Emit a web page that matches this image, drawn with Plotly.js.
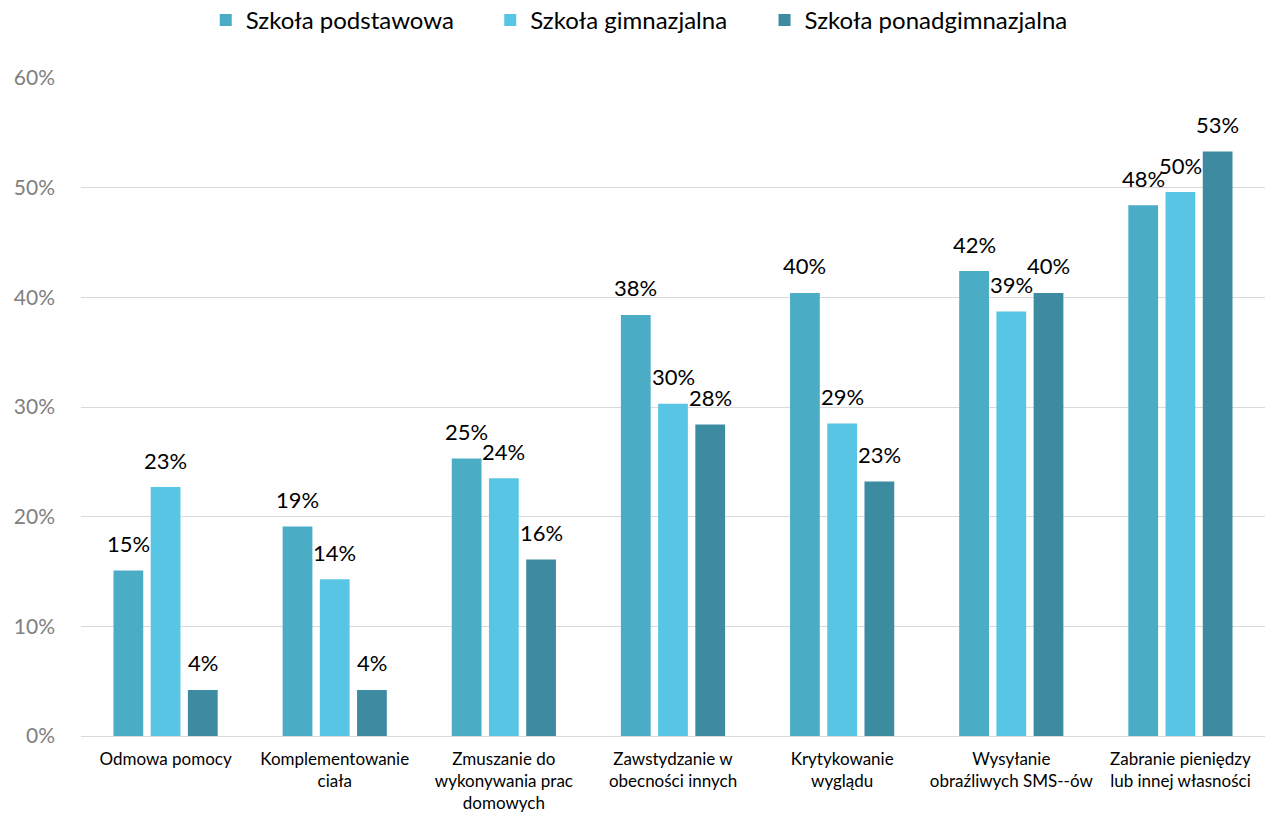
<!DOCTYPE html>
<html>
<head>
<meta charset="utf-8">
<script src="https://cdn.plot.ly/plotly-3.0.1.min.js"></script>
<style>
  html, body { margin: 0; padding: 0; background: #fff; }
  #chart { width: 1270px; height: 814px; }
</style>
</head>
<body>
<div id="chart"></div>
<script>
var categories = [
  'Odmowa pomocy',
  'Komplementowanie<br>ciała',
  'Zmuszanie do<br>wykonywania prac<br>domowych',
  'Zawstydzanie w<br>obecności innych',
  'Krytykowanie<br>wyglądu',
  'Wysyłanie<br>obraźliwych SMS--ów',
  'Zabranie pieniędzy<br>lub innej własności'
];
var seriesNames = ['Szkoła podstawowa', 'Szkoła gimnazjalna', 'Szkoła ponadgimnazjalna'];
var podstawowa = [15.1, 19.1, 25.3, 38.4, 40.4, 42.4, 48.4];
var gimnazjalna = [22.7, 14.3, 23.5, 30.3, 28.5, 38.7, 49.6];
var ponadgimnazjalna = [4.2, 4.2, 16.1, 28.4, 23.2, 40.4, 53.3];
var colors = ['#4BACC6', '#59C5E5', '#3D8BA1'];

var W = 1270, H = 814;
var margin = { l: 81, r: 5, t: 78, b: 78 };
var bargap = 0.34;

var allSeries = [podstawowa, gimnazjalna, ponadgimnazjalna];
var legendIds = ['legend', 'legend2', 'legend3'];
var legendX = [0.162, 0.386, 0.602];

var data = allSeries.map(function (y, i) {
  return {
    type: 'bar',
    name: seriesNames[i],
    x: categories,
    y: y,
    legend: legendIds[i],
    marker: { color: colors[i] },
    hoverinfo: 'none'
  };
});

// data labels as annotations so they can sit a bit higher above the bars, like the original
var catWidth = (W - margin.l - margin.r) / categories.length;
var slot = catWidth * (1 - bargap) / allSeries.length;
var annotations = [];
allSeries.forEach(function (y, i) {
  y.forEach(function (v, j) {
    annotations.push({
      x: categories[j],
      y: v,
      xref: 'x',
      yref: 'y',
      text: Math.round(v) + '%',
      showarrow: false,
      xanchor: 'center',
      yanchor: 'middle',
      xshift: (i - 1) * slot,
      yshift: 27,
      font: { family: 'Lato, sans-serif', size: 22, color: '#000' }
    });
  });
});

var layout = {
  width: W,
  height: H,
  margin: margin,
  paper_bgcolor: '#fff',
  plot_bgcolor: '#fff',
  barmode: 'group',
  bargap: bargap,
  bargroupgap: 0.2,
  font: { family: 'Lato, sans-serif', color: '#000' },
  showlegend: true,
  annotations: annotations,
  xaxis: {
    showgrid: false,
    showline: false,
    ticks: '',
    tickangle: 0,
    ticklabelstandoff: 11,
    tickfont: { size: 17, color: '#000' }
  },
  yaxis: {
    range: [0, 60],
    dtick: 10,
    ticksuffix: '%',
    showgrid: true,
    gridcolor: '#d9d9d9',
    zeroline: true,
    zerolinecolor: '#d9d9d9',
    showline: false,
    ticks: '',
    ticklabelstandoff: 25,
    tickfont: { size: 21, color: '#808080' }
  }
};

// one small legend per series so the spacing can match the original
legendIds.forEach(function (id, i) {
  layout[id] = {
    orientation: 'h',
    xref: 'container',
    x: legendX[i],
    xanchor: 'left',
    yref: 'container',
    y: 0.975,
    yanchor: 'middle',
    font: { size: 24, color: '#000' },
    itemwidth: 30
  };
});

Plotly.newPlot('chart', data, layout, { displayModeBar: false, staticPlot: true });
</script>
</body>
</html>
